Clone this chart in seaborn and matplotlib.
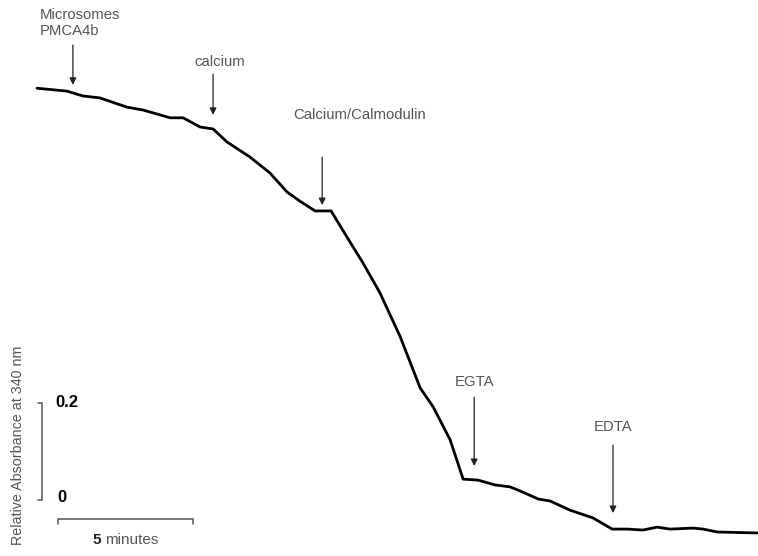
import matplotlib
matplotlib.use("Agg")
import matplotlib.pyplot as plt
import numpy as np
import pandas as pd
import seaborn as sns

# Absorbance trace at 340 nm (relative units) against time (minutes)
time_min = [0.00, 1.11, 1.70, 2.33, 3.33, 3.93, 4.93, 5.41, 6.04, 6.52,
            7.04, 7.89, 8.63, 9.26, 9.74, 10.30, 10.89, 11.48, 12.07, 12.70,
            13.44, 14.19, 14.67, 15.30, 15.78, 16.33, 16.96, 17.52, 18.00, 18.56,
            19.00, 19.74, 20.59, 21.30, 21.85, 22.44, 22.96, 23.44, 24.30, 24.67,
            25.19, 26.67]
absorbance = [0.849, 0.843, 0.833, 0.829, 0.810, 0.804, 0.788, 0.788, 0.769, 0.765,
              0.738, 0.707, 0.674, 0.635, 0.616, 0.596, 0.596, 0.542, 0.489, 0.427,
              0.338, 0.231, 0.192, 0.124, 0.043, 0.041, 0.031, 0.027, 0.016, 0.002,
              -0.002, -0.021, -0.037, -0.060, -0.060, -0.062, -0.056, -0.060, -0.058, -0.060,
              -0.066, -0.068]

# Additions to the cuvette
event_labels = ["Microsomes\nPMCA4b", "calcium", "Calcium/Calmodulin", "EGTA", "EDTA"]
event_times = [1.33, 6.52, 10.56, 16.19, 21.33]

# Scale bar values
scale_abs = [0, 0.2]
scale_abs_labels = ["0", "0.2"]
scale_minutes = 5

df = pd.DataFrame({"t": time_min, "A": absorbance})

sns.set_style("white")
plt.rcParams["font.family"] = ["Liberation Sans", "DejaVu Sans"]

fig = plt.figure(figsize=(7.58, 5.56), dpi=100)
ax = fig.add_axes([0, 0, 1, 1])
sns.lineplot(data=df, x="t", y="A", ax=ax, color="black", linewidth=2.0,
             estimator=None, sort=False)
ax.set_xlim(-1.370, 26.70)
ax.set_ylim(-0.1155, 1.0309)
ax.set_axis_off()

text_col = "#555555"
bar_col = "#555555"

# Arrows and labels for each addition: (tail A, head A, label x, label y, align)
arrow_layout = [
    (0.938, 0.856, 0.11, 1.014, "left", "top"),
    (0.878, 0.794, 6.78, 0.903, "center", "center"),
    (0.707, 0.608, 11.96, 0.794, "center", "center"),
    (0.212, 0.070, 16.22, 0.243, "center", "center"),
    (0.113, -0.027, 21.33, 0.151, "center", "center"),
]
for lab, t, (a_tail, a_head, lx, ly, ha, va) in zip(event_labels, event_times, arrow_layout):
    ax.annotate("", xy=(t, a_head), xytext=(t, a_tail),
                arrowprops=dict(arrowstyle="-|>", color="#222222", lw=0.9,
                                mutation_scale=10, shrinkA=0, shrinkB=0))
    ax.text(lx, ly, lab, ha=ha, va=va, fontsize=10.7, color=text_col,
            linespacing=1.15, multialignment="left")

# Vertical absorbance scale bar
vx, vtick = 0.185, 0.037
ax.plot([vtick, vx, vx, vtick], [scale_abs[1], scale_abs[1], scale_abs[0], scale_abs[0]],
        color=bar_col, lw=1.1, solid_joinstyle="miter")
ax.text(0.67, scale_abs[1], scale_abs_labels[1], ha="left", va="center",
        fontsize=12, fontweight="bold", color="black")
ax.text(0.74, scale_abs[0] + 0.006, scale_abs_labels[0], ha="left", va="center",
        fontsize=12, fontweight="bold", color="black")

# Horizontal time scale bar
hx0 = 0.778
hy, htick = -0.039, -0.050
ax.plot([hx0, hx0, hx0 + scale_minutes, hx0 + scale_minutes],
        [htick, hy, hy, htick], color=bar_col, lw=1.1, solid_joinstyle="miter")
ax.text(2.07, -0.083, str(scale_minutes), ha="left", va="center",
        fontsize=11, fontweight="bold", color="#222222")
ax.text(2.52, -0.083, "minutes", ha="left", va="center",
        fontsize=11, color=text_col)

ax.text(-0.70, 0.113, "Relative Absorbance at 340 nm", rotation=90,
        ha="center", va="center", fontsize=10.3, color=text_col)

fig.savefig("out.png", dpi=100)
